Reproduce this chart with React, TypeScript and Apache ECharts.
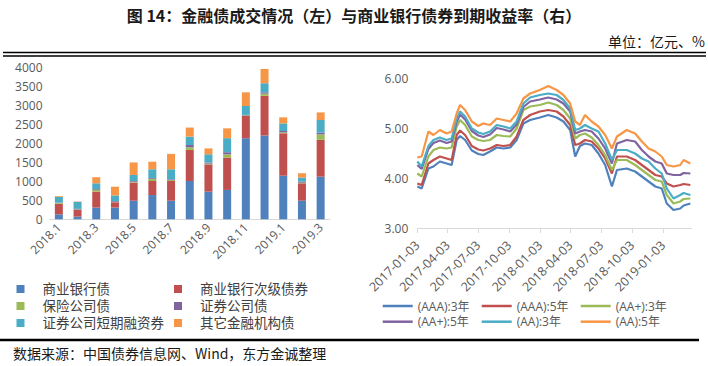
import React, { useEffect, useRef } from "react";
import * as echarts from "echarts";

// ---------- Left chart data (亿元) ----------
const months = [
  "2018.1", "2018.2", "2018.3", "2018.4", "2018.5", "2018.6", "2018.7", "2018.8",
  "2018.9", "2018.10", "2018.11", "2018.12", "2019.1", "2019.2", "2019.3",
];
const bankBond = [130, 70, 310, 310, 490, 640, 490, 1010, 730, 775, 2140, 2210, 1150, 490, 1125];
const bankSub = [280, 180, 420, 140, 480, 370, 520, 820, 720, 855, 585, 1050, 1120, 460, 970];
const insurance = [20, 10, 50, 10, 20, 60, 25, 70, 20, 85, 15, 55, 25, 15, 145];
const securities = [10, 15, 20, 20, 20, 20, 20, 60, 30, 55, 15, 35, 35, 30, 45];
const securitiesCP = [150, 185, 150, 150, 160, 230, 265, 220, 215, 370, 235, 240, 200, 105, 335];
const otherFin = [20, 10, 160, 230, 330, 200, 405, 240, 155, 260, 360, 375, 160, 115, 200];
const barNames = ["商业银行债", "商业银行次级债券", "保险公司债", "证券公司债", "证券公司短期融资券", "其它金融机构债"];

// ---------- Right chart data (%) ----------
const dates = [
  "2017-01-03", "2017-01-16", "2017-02-05", "2017-02-20", "2017-03-11", "2017-03-31",
  "2017-04-15", "2017-04-30", "2017-05-10", "2017-05-25", "2017-06-14", "2017-07-03",
  "2017-07-18", "2017-08-07", "2017-08-27", "2017-09-16", "2017-10-06", "2017-10-25",
  "2017-11-14", "2017-12-04", "2018-01-02", "2018-01-27", "2018-02-21", "2018-03-13",
  "2018-04-02", "2018-04-17", "2018-05-01", "2018-05-16", "2018-06-05", "2018-06-25",
  "2018-07-15", "2018-08-04", "2018-08-19", "2018-09-17", "2018-10-12", "2018-11-01",
  "2018-11-21", "2018-12-11", "2018-12-30", "2019-01-14", "2019-02-03", "2019-02-23",
  "2019-03-05", "2019-03-25",
];
const aaa3 = [3.83, 3.79, 4.19, 4.23, 4.33, 4.29, 4.26, 4.76, 4.84, 4.76, 4.55, 4.48, 4.46, 4.53, 4.61, 4.59, 4.61, 4.76, 5.09, 5.16, 5.21, 5.26, 5.21, 5.13, 4.96, 4.43, 4.64, 4.69, 4.66, 4.49, 4.26, 3.83, 4.16, 4.19, 4.13, 4.03, 3.93, 3.83, 3.79, 3.49, 3.36, 3.39, 3.45, 3.49];
const aaa5 = [3.89, 3.86, 4.29, 4.36, 4.43, 4.39, 4.36, 4.86, 4.95, 4.86, 4.64, 4.57, 4.55, 4.59, 4.66, 4.64, 4.66, 4.83, 5.16, 5.26, 5.33, 5.36, 5.33, 5.23, 5.06, 4.66, 4.69, 4.76, 4.73, 4.59, 4.39, 4.09, 4.43, 4.43, 4.36, 4.26, 4.16, 4.06, 4.03, 3.89, 3.83, 3.86, 3.88, 3.86];
const aap3 = [4.09, 4.03, 4.43, 4.56, 4.61, 4.59, 4.61, 5.03, 5.16, 5.06, 4.83, 4.76, 4.74, 4.76, 4.86, 4.84, 4.83, 4.99, 5.36, 5.43, 5.46, 5.51, 5.46, 5.36, 5.19, 4.79, 4.86, 4.89, 4.81, 4.66, 4.46, 4.16, 4.36, 4.36, 4.26, 4.16, 4.06, 3.96, 3.93, 3.66, 3.49, 3.53, 3.58, 3.59];
const aap5 = [4.26, 4.18, 4.58, 4.70, 4.75, 4.70, 4.73, 5.12, 5.27, 5.17, 4.94, 4.85, 4.82, 4.87, 5.00, 4.97, 4.93, 5.07, 5.42, 5.53, 5.57, 5.61, 5.57, 5.49, 5.33, 4.89, 4.93, 4.96, 4.93, 4.79, 4.59, 4.29, 4.69, 4.76, 4.73, 4.56, 4.43, 4.33, 4.29, 4.09, 4.06, 4.06, 4.10, 4.09];
const aa3 = [4.33, 4.23, 4.64, 4.76, 4.81, 4.76, 4.79, 5.19, 5.33, 5.23, 4.99, 4.91, 4.88, 4.93, 5.06, 5.03, 4.99, 5.13, 5.49, 5.61, 5.66, 5.69, 5.66, 5.56, 5.39, 4.96, 4.99, 5.06, 4.99, 4.93, 4.69, 4.36, 4.56, 4.56, 4.49, 4.39, 4.33, 4.19, 4.09, 3.79, 3.59, 3.66, 3.70, 3.66];
const aa5 = [4.41, 4.43, 4.93, 4.86, 4.96, 4.89, 4.93, 5.29, 5.46, 5.36, 5.13, 5.04, 5.09, 5.06, 5.19, 5.16, 5.13, 5.29, 5.59, 5.69, 5.76, 5.84, 5.76, 5.66, 5.49, 5.13, 5.06, 5.26, 5.13, 5.03, 4.86, 4.59, 4.83, 4.96, 4.89, 4.73, 4.59, 4.53, 4.43, 4.26, 4.23, 4.26, 4.36, 4.29];
const lineNames = ["(AAA):3年", "(AAA):5年", "(AA+):3年", "(AA+):5年", "(AA):3年", "(AA):5年"];
const xTickDates = [
  "2017-01-03", "2017-04-03", "2017-07-03", "2017-10-03", "2018-01-03",
  "2018-04-03", "2018-07-03", "2018-10-03", "2019-01-03",
];
const xMin = "2017-01-03";
const xMax = "2019-03-29";

const COLORS = ["#4F81BD", "#C0504D", "#9BBB59", "#8064A2", "#4BACC6", "#F79646"];
const LEG = '"Liberation Sans", "Noto Sans CJK SC", sans-serif';
const NUM = '"Open Sans", "Noto Sans CJK SC", sans-serif';

function toTs(s: string): number {
  const [y, m, d] = s.split("-").map(Number);
  return Date.UTC(y, m - 1, d);
}
function fmtDate(v: number): string {
  const d = new Date(v);
  const p = (n: number) => (n < 10 ? "0" + n : "" + n);
  return d.getUTCFullYear() + "-" + p(d.getUTCMonth() + 1) + "-" + p(d.getUTCDate());
}

export default function App() {
  const ref = useRef<HTMLDivElement>(null);
  useEffect(() => {
    if (!ref.current) return;
    const chart = echarts.init(ref.current, undefined, { renderer: "svg" });
    const barData = [bankBond, bankSub, insurance, securities, securitiesCP, otherFin];
    const lineData = [aaa3, aaa5, aap3, aap5, aa3, aa5];
    const tickTs = xTickDates.map(toTs);

    const legendBase = {
      orient: "vertical" as const,
      padding: 0,
      selectedMode: false,
    };
    const barLegendText = { fontSize: 13.5, lineHeight: 14, color: "#404040", fontFamily: LEG, padding: [0, 0, 0, 13] };
    const lineLegendText = { fontSize: 12, lineHeight: 12, color: "#595959", fontFamily: NUM };

    chart.setOption({
      animation: false,
      backgroundColor: "#ffffff",
      grid: [
        { left: 49.5, right: 378, top: 67.7, bottom: 146.7, containLabel: false },
        { left: 417.3, right: 16.3, top: 78, bottom: 138, containLabel: false },
      ],
      xAxis: [
        {
          type: "category",
          gridIndex: 0,
          data: months,
          axisTick: { show: false },
          axisLine: { lineStyle: { color: "#D9D9D9", width: 1 } },
          axisLabel: {
            interval: 1,
            rotate: 45,
            fontSize: 12,
            color: "#595959",
            fontFamily: NUM,
            margin: 6,
          },
        },
        {
          type: "value",
          gridIndex: 1,
          min: toTs(xMin),
          max: toTs(xMax),
          axisLine: { lineStyle: { color: "#D9D9D9", width: 1 } },
          axisTick: { show: true, customValues: tickTs, length: 5, lineStyle: { color: "#D9D9D9" } },
          splitLine: { show: false },
          axisLabel: {
            customValues: tickTs,
            rotate: 45,
            fontSize: 12.5,
            color: "#595959",
            fontFamily: NUM,
            margin: 15,
            formatter: (v: number) => fmtDate(v),
            hideOverlap: false,
            showMinLabel: true,
            showMaxLabel: true,
          },
        },
      ],
      yAxis: [
        {
          type: "value",
          gridIndex: 0,
          min: 0,
          max: 4000,
          interval: 500,
          splitLine: { show: false },
          axisLine: { show: false },
          axisTick: { show: false },
          axisLabel: {
            fontSize: 12,
            color: "#595959",
            fontFamily: NUM,
            margin: 7,
            formatter: (v: number) => String(v),
          },
        },
        {
          type: "value",
          gridIndex: 1,
          min: 3,
          max: 6,
          interval: 1,
          splitLine: { show: false },
          axisLine: { show: false },
          axisTick: { show: false },
          axisLabel: {
            fontSize: 12,
            color: "#595959",
            fontFamily: NUM,
            margin: 9,
            formatter: (v: number) => v.toFixed(2),
          },
        },
      ],
      legend: [
        {
          ...legendBase,
          left: 16.5,
          top: 282,
          data: [barNames[0], barNames[2], barNames[4]],
          icon: "rect",
          itemWidth: 8,
          itemHeight: 8,
          itemGap: 3,
          textStyle: barLegendText,
        },
        {
          ...legendBase,
          left: 174,
          top: 282,
          data: [barNames[1], barNames[3], barNames[5]],
          icon: "rect",
          itemWidth: 8,
          itemHeight: 8,
          itemGap: 3,
          textStyle: barLegendText,
        },
        {
          ...legendBase,
          left: 382.7,
          top: 300,
          data: [lineNames[0], lineNames[3]],
          icon: "rect",
          itemWidth: 30,
          itemHeight: 2.5,
          itemGap: 3.7,
          textStyle: lineLegendText,
        },
        {
          ...legendBase,
          left: 481.7,
          top: 300,
          data: [lineNames[1], lineNames[4]],
          icon: "rect",
          itemWidth: 30,
          itemHeight: 2.5,
          itemGap: 3.7,
          textStyle: lineLegendText,
        },
        {
          ...legendBase,
          left: 580.7,
          top: 300,
          data: [lineNames[2], lineNames[5]],
          icon: "rect",
          itemWidth: 30,
          itemHeight: 2.5,
          itemGap: 3.7,
          textStyle: lineLegendText,
        },
      ],
      series: [
        ...barNames.map((name, i) => ({
          name,
          type: "bar",
          stack: "total",
          xAxisIndex: 0,
          yAxisIndex: 0,
          barWidth: 8,
          itemStyle: { color: COLORS[i] },
          data: barData[i],
        })),
        ...lineNames.map((name, i) => ({
          name,
          type: "line",
          xAxisIndex: 1,
          yAxisIndex: 1,
          symbol: "none",
          lineStyle: { width: 2.2, color: COLORS[i] },
          itemStyle: { color: COLORS[i] },
          data: dates.map((d, k) => [toTs(d), lineData[i][k]]),
        })),
      ],
      graphic: [
        {
          type: "text",
          left: "center",
          top: 7,
          style: {
            text: "图 14：金融债成交情况（左）与商业银行债券到期收益率（右）",
            font: 'bold 16px "Noto Sans CJK SC", sans-serif',
            fill: "#1a1a1a",
          },
        },
        {
          type: "text",
          right: 3,
          top: 34,
          style: {
            text: "单位：亿元、%",
            font: '14px "Noto Sans CJK SC", sans-serif',
            fill: "#1a1a1a",
          },
        },
        {
          type: "line",
          shape: { x1: 3, y1: 52.5, x2: 706, y2: 52.5 },
          style: { stroke: "#000", lineWidth: 1.5 },
        },
        {
          type: "line",
          shape: { x1: 3, y1: 56, x2: 706, y2: 56 },
          style: { stroke: "#000", lineWidth: 1.5 },
        },
        {
          type: "line",
          shape: { x1: 0, y1: 340, x2: 699, y2: 340 },
          style: { stroke: "#000", lineWidth: 2.5 },
        },
        {
          type: "text",
          left: 13,
          top: 346,
          style: {
            text: "数据来源：中国债券信息网、Wind，东方金诚整理",
            font: '14px "Noto Sans CJK SC", sans-serif',
            fill: "#1a1a1a",
          },
        },
      ],
    });
    return () => chart.dispose();
  }, []);

  return (
    <div
      ref={ref}
      style={{ position: "absolute", left: 0, top: 0, width: 708, height: 366, background: "#fff" }}
    />
  );
}
